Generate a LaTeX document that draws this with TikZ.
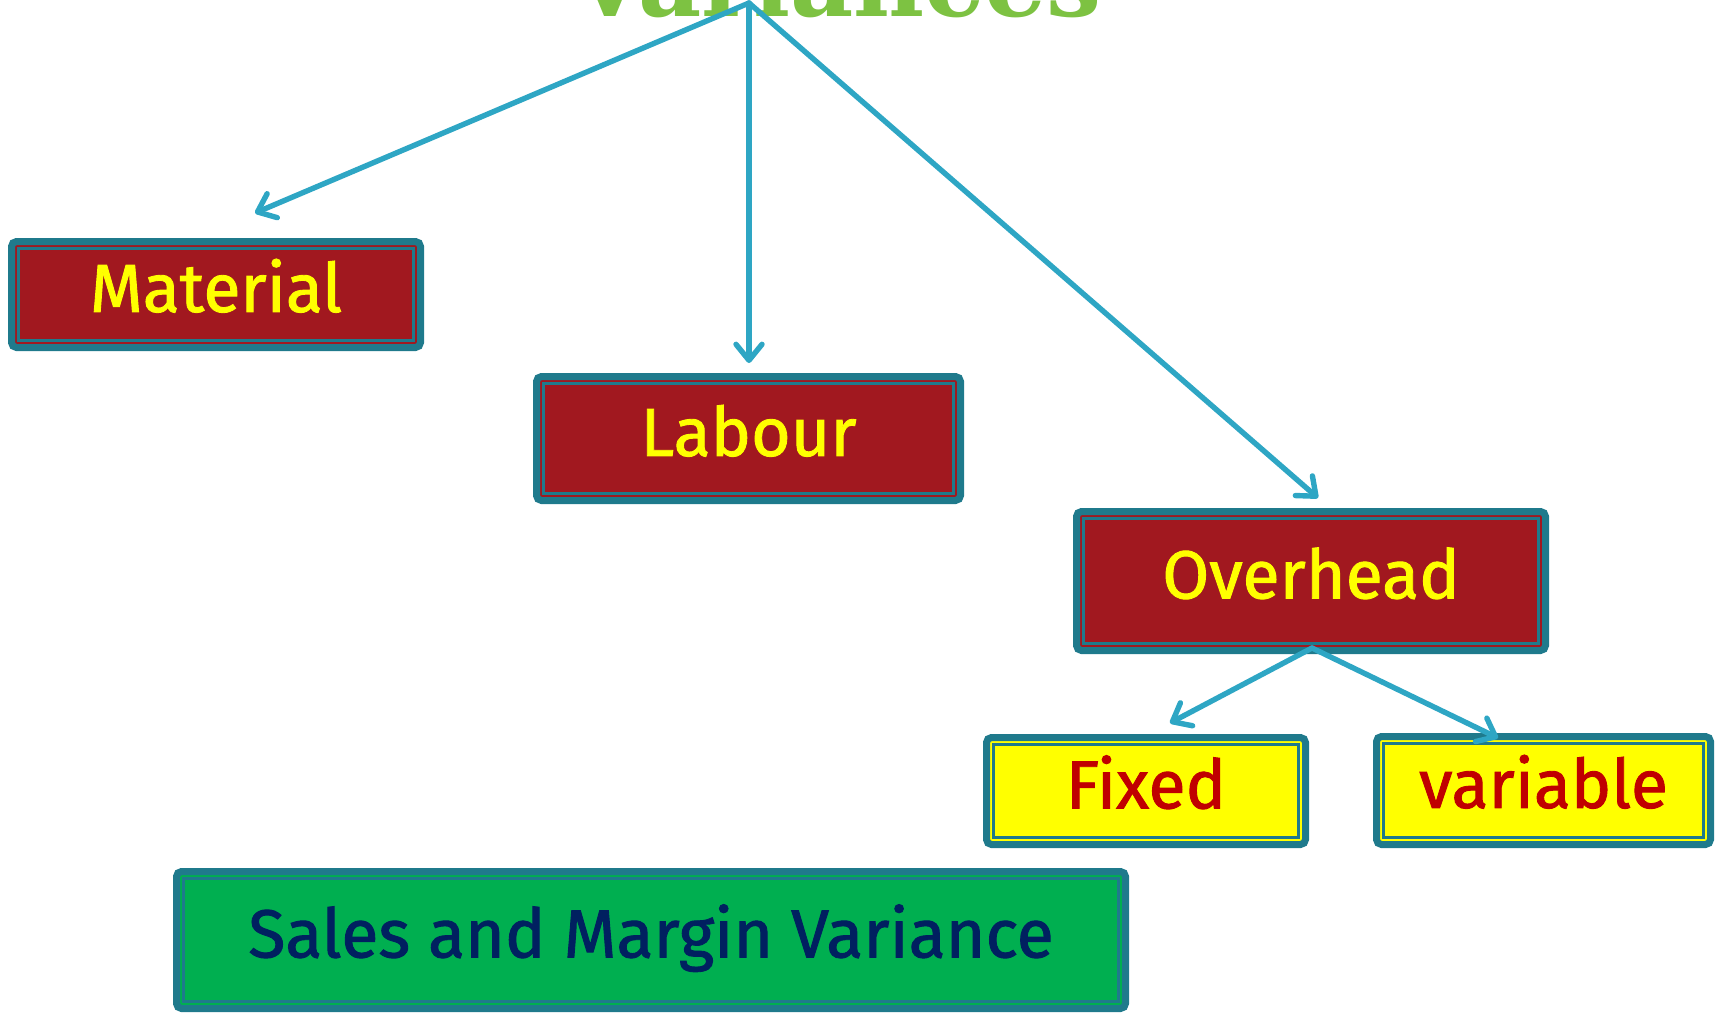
\documentclass[tikz,border=0pt]{standalone}
\usepackage{fontspec}
\setmainfont{Fira Sans}
\newfontfamily\boxfont{Fira Sans}[FakeBold=1.3]
\newfontfamily\titlefont{DejaVu Serif}
\usetikzlibrary{arrows.meta}
\definecolor{tealb}{HTML}{1F7A8C}
\definecolor{arrowc}{HTML}{2EA6C4}
\definecolor{boxred}{HTML}{A1181F}
\definecolor{boxyellow}{HTML}{FFFF00}
\definecolor{boxgreen}{HTML}{00AF50}
\definecolor{navytext}{HTML}{002060}
\definecolor{redtext}{HTML}{C00000}
\definecolor{titlegreen}{HTML}{7DC242}
\tikzset{
  vbox/.style={draw=tealb, line width=3.5pt, rounded corners=2.5pt, inner sep=0pt,
    font=\boxfont\fontsize{34}{40}\selectfont, text height=23.4pt, text depth=6pt,
    path picture={\draw[tealb, line width=1.3pt, sharp corners]
      ([shift={(3.5pt,-3.5pt)}]path picture bounding box.north west) rectangle
      ([shift={(-3.5pt,3.5pt)}]path picture bounding box.south east);}},
  redbox/.style={vbox, fill=boxred, text=boxyellow},
  yelbox/.style={vbox, fill=boxyellow, text=redtext},
  grnbox/.style={vbox, fill=boxgreen, text=navytext},
  conn/.style={draw=arrowc, line width=2.7pt, line cap=round, line join=round,
    -{Straight Barb[length=8pt,width=13pt,line cap=round,line join=round]}}
}
\begin{document}
\begin{tikzpicture}[x=0.5pt,y=-0.5pt]
\useasboundingbox (0,0) rectangle (1719,1013);
\clip (0,0) rectangle (1719,1013);
% title (only its lower part is visible)
\node[anchor=base, text=titlegreen, inner sep=0pt] (title) at (836.5,16)
  {\resizebox{265pt}{!}{\titlefont\bfseries Variances}};
% boxes
\node[redbox, minimum width=204.5pt, minimum height=53pt] (material) at (216,294.5) {Material};
\node[redbox, minimum width=212pt, minimum height=62pt] (labour) at (748.5,438.5) {Labour};
\node[redbox, minimum width=234.5pt, minimum height=69.5pt] (overhead) at (1311,581) {Overhead};
\node[yelbox, minimum width=159.5pt, minimum height=53.5pt] (fixed) at (1146,791) {Fixed};
\node[yelbox, minimum width=167pt, minimum height=54pt] (variable) at (1543.5,790.5) {variable};
\node[grnbox, minimum width=474.5pt, minimum height=68.5pt] (sales) at (651,940) {Sales and Margin Variance};
% connector ends
\coordinate (apex) at (749,3);
\coordinate (ma) at (255,213);
\coordinate (la) at (749,363);
\coordinate (oa) at (1318,498);
\coordinate (fa) at (1170,723);
\coordinate (va) at (1498,738);
\coordinate (osrc) at (1312,648);
% connectors
\draw[conn] (apex) -- (ma);
\draw[conn] (apex) -- (la);
\draw[conn] (apex) -- (oa);
\draw[conn] (osrc) -- (fa);
\draw[conn] (osrc) -- (va);
\end{tikzpicture}
\end{document}
